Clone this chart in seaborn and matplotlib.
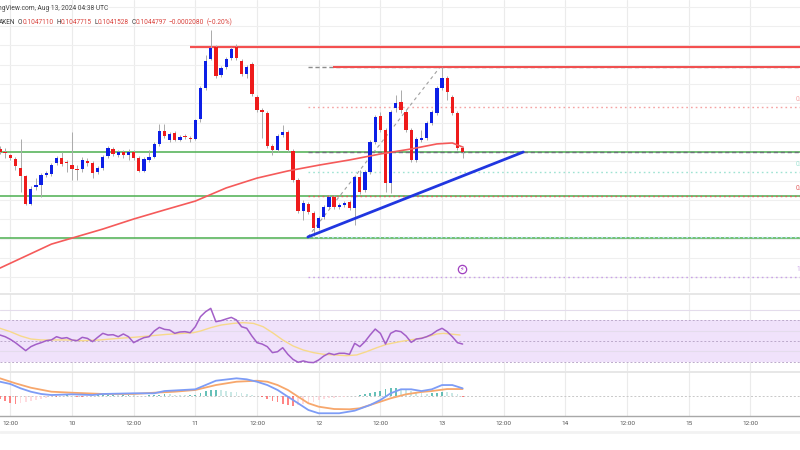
import matplotlib
matplotlib.use("Agg")
import matplotlib.pyplot as plt
from matplotlib.lines import Line2D
import numpy as np
import pandas as pd
import seaborn as sns

sns.set_theme(style="white")
plt.rcParams['font.family'] = ['Roboto', 'DejaVu Sans']

# ---------------- data (hourly candles, hour 0 = Aug 9 10:00 UTC) ----------------
opens = [0.10464, 0.10448, 0.10433, 0.10412, 0.10365, 0.10324, 0.10179, 0.10267, 0.10277, 0.10329,
         0.10334, 0.10391, 0.10417, 0.10396, 0.10381, 0.10360, 0.10360, 0.10402, 0.10391, 0.10345,
         0.10365, 0.10427, 0.10464, 0.10433, 0.10448, 0.10433, 0.10448, 0.10417, 0.10350, 0.10407,
         0.10422, 0.10490, 0.10557, 0.10510, 0.10547, 0.10510, 0.10531, 0.10521, 0.10515, 0.10619,
         0.10780, 0.10930, 0.10992, 0.10847, 0.10888, 0.10935, 0.10992, 0.10920, 0.10852, 0.10904,
         0.10733, 0.10666, 0.10650, 0.10479, 0.10459, 0.10536, 0.10552, 0.10453, 0.10303, 0.10143,
         0.10179, 0.10132, 0.10055, 0.10111, 0.10163, 0.10215, 0.10163, 0.10174, 0.10189, 0.10158,
         0.10319, 0.10251, 0.10345, 0.10500, 0.10635, 0.10562, 0.10288, 0.10676, 0.10707, 0.10655,
         0.10562, 0.10407, 0.10510, 0.10521, 0.10598, 0.10650, 0.10780, 0.10831, 0.10733, 0.10650,
         0.104711]
closes = [0.10448, 0.10443, 0.10417, 0.10376, 0.10324, 0.10179, 0.10256, 0.10277, 0.10329, 0.10339,
          0.10381, 0.10417, 0.10386, 0.10391, 0.10360, 0.10355, 0.10407, 0.10391, 0.10339, 0.10365,
          0.10422, 0.10469, 0.10438, 0.10448, 0.10433, 0.10448, 0.10417, 0.10350, 0.10412, 0.10422,
          0.10490, 0.10557, 0.10531, 0.10541, 0.10510, 0.10526, 0.10526, 0.10518, 0.10614, 0.10780,
          0.10920, 0.10987, 0.10842, 0.10883, 0.10930, 0.10982, 0.10935, 0.10852, 0.10888, 0.10749,
          0.10666, 0.10655, 0.10479, 0.10459, 0.10531, 0.10552, 0.10459, 0.10303, 0.10143, 0.10184,
          0.10137, 0.10055, 0.10106, 0.10163, 0.10215, 0.10163, 0.10174, 0.10184, 0.10158, 0.10319,
          0.10241, 0.10345, 0.10500, 0.10629, 0.10562, 0.10288, 0.10655, 0.10702, 0.10666, 0.10562,
          0.10407, 0.10515, 0.10521, 0.10598, 0.10655, 0.10780, 0.10831, 0.10759, 0.10650, 0.10469,
          0.1044797]
highs = [0.10479, 0.10469, 0.10438, 0.10422, 0.10515, 0.10329, 0.10272, 0.10313, 0.10339, 0.10350,
         0.10391, 0.10427, 0.10448, 0.10407, 0.10552, 0.10381, 0.10422, 0.10417, 0.10402, 0.10376,
         0.10433, 0.10479, 0.10474, 0.10459, 0.10459, 0.10464, 0.10459, 0.10427, 0.10422, 0.10459,
         0.10500, 0.10593, 0.10593, 0.10552, 0.10557, 0.10536, 0.10541, 0.10531, 0.10619, 0.10790,
         0.10951, 0.11080, 0.11002, 0.10894, 0.10940, 0.10992, 0.11008, 0.10930, 0.10899, 0.10914,
         0.10743, 0.10676, 0.10661, 0.10490, 0.10541, 0.10588, 0.10562, 0.10464, 0.10313, 0.10200,
         0.10189, 0.10143, 0.10117, 0.10174, 0.10225, 0.10225, 0.10184, 0.10194, 0.10200, 0.10329,
         0.10355, 0.10355, 0.10510, 0.10640, 0.10655, 0.10572, 0.10666, 0.10743, 0.10769, 0.10666,
         0.10572, 0.10526, 0.10562, 0.10609, 0.10666, 0.10790, 0.10888, 0.10842, 0.10743, 0.10661,
         0.1047715]
lows = [0.10438, 0.10417, 0.10407, 0.10355, 0.10241, 0.10174, 0.10174, 0.10251, 0.10215, 0.10319,
        0.10324, 0.10381, 0.10376, 0.10345, 0.10303, 0.10303, 0.10345, 0.10376, 0.10313, 0.10334,
        0.10355, 0.10417, 0.10427, 0.10422, 0.10417, 0.10407, 0.10407, 0.10345, 0.10345, 0.10396,
        0.10417, 0.10479, 0.10521, 0.10500, 0.10505, 0.10505, 0.10515, 0.10500, 0.10510, 0.10604,
        0.10769, 0.10925, 0.10831, 0.10837, 0.10878, 0.10925, 0.10925, 0.10842, 0.10831, 0.10738,
        0.10655, 0.10521, 0.10469, 0.10433, 0.10448, 0.10526, 0.10448, 0.10293, 0.10132, 0.10096,
        0.10127, 0.10013, 0.10044, 0.10101, 0.10153, 0.10153, 0.10153, 0.10163, 0.10148, 0.10070,
        0.10231, 0.10241, 0.10334, 0.10490, 0.10552, 0.10241, 0.10236, 0.10655, 0.10650, 0.10552,
        0.10396, 0.10396, 0.10500, 0.10510, 0.10588, 0.10640, 0.10769, 0.10718, 0.10640, 0.10459,
        0.1041528]

# 100-period moving average (red), read at selected hours
ma_hours = [0, 10, 20, 26, 32, 38, 44, 50, 56, 62, 68, 74, 80, 85, 88, 90]
ma_vals = [0.09847, 0.09971, 0.10049, 0.10101, 0.10148, 0.10194, 0.10262, 0.10313, 0.10350,
           0.10380, 0.10407, 0.10438, 0.10464, 0.10490, 0.10495, 0.10474]

# RSI per candle
rsi = [55.7, 54.1, 51.6, 48.4, 44.6, 40.8, 44.6, 46.8, 48.4, 50.3,
       51.0, 54.1, 52.5, 53.2, 51.0, 50.3, 53.5, 52.5, 49.4, 53.5,
       57.3, 55.7, 56.0, 54.1, 56.7, 54.1, 48.4, 51.0, 53.2, 54.1,
       59.5, 63.0, 61.1, 60.5, 57.3, 58.6, 58.9, 57.9, 63.6, 73.2,
       77.9, 81.1, 68.4, 69.4, 71.0, 72.5, 70.0, 63.6, 62.1, 54.8,
       48.4, 47.1, 44.6, 38.9, 39.8, 43.6, 37.3, 32.5, 29.7, 31.0,
       29.7, 29.4, 31.9, 35.7, 38.3, 37.0, 38.3, 38.3, 37.3, 47.8,
       44.6, 49.4, 55.7, 61.4, 57.3, 47.1, 57.3, 59.8, 58.9, 54.8,
       48.7, 51.9, 52.5, 54.1, 56.3, 59.8, 62.1, 58.9, 54.1, 48.4,
       47.1]
# RSI-based moving average (yellow)
rsi_ma_hours = [0, 2, 4, 6, 8, 13, 16, 19.5, 23, 26, 29, 32.4, 35.7, 37.6, 39, 41, 43, 45.4, 47.3,
                49.3, 51.2, 53.2, 55, 57, 59, 61, 63, 65, 67.4, 69.4, 71.3, 73.3, 75.2, 77.8, 79.8,
                81.7, 83.7, 85, 86.3, 87.5, 89.5]
rsi_ma = [62.1, 58.9, 54.8, 51.9, 51.0, 51.0, 50.3, 51.0, 52.5, 53.5, 54.8, 56.3, 57.3, 57.9, 59.5,
          62.7, 65.2, 66.8, 67.5, 66.8, 63.6, 57.3, 51.0, 45.3, 41.4, 38.9, 37.3, 36.7, 36.0, 36.7,
          39.8, 43.6, 46.8, 49.4, 51.0, 52.5, 54.8, 56.7, 57.3, 56.7, 55.7]

# MACD (units of 1e-5)
macd_hours = [0, 2, 4, 6, 8, 10, 14, 18, 20, 26, 30, 32, 38, 40, 42, 46, 48, 50, 52, 54, 56, 58,
              60, 62, 66, 69, 72, 74, 76, 78, 80, 82, 84, 86, 88, 90]
macd_vals = [21.0, 17.6, 11.1, 6.0, 2.6, 1.0, 2.1, 1.0, 2.6, 3.6, 3.6, 7.0, 9.6, 16.0, 22.5, 26.1,
             24.6, 21.0, 16.0, 8.6, -1.5, -11.4, -21.5, -26.4, -26.4, -22.5, -14.0, -6.5, 3.6, 9.6,
             9.6, 7.0, 9.6, 16.0, 16.0, 11.1]
signal_hours = [0, 3, 6, 10, 14, 20, 26, 30, 34, 38, 42, 46, 50, 52, 54, 56, 58, 60, 62, 65, 68,
                70, 72, 74, 76, 79, 82, 84, 87, 90]
signal_vals = [26.1, 18.6, 12.0, 6.0, 4.5, 2.6, 2.6, 4.5, 6.0, 8.6, 16.0, 21.0, 22.5, 21.0, 16.0,
               8.6, -1.5, -11.4, -16.5, -20.0, -20.4, -18.9, -14.0, -9.0, -3.9, 2.1, 5.6, 7.0,
               10.0, 10.0]
hist = [-4.5, -7.5, -10.5, -12, -10.5, -9, -7.5, -6, -4.5, -3, -1.5,
        -1.5, -0.8, 0.8, -0.8, -1.5, -2.3, -1.5, -0.8, 0.8, 0.8, 0.8, 0.8, 0.5, 0.5, 0.5, 0.3,
        -0.5, -0.5, 0.3, 0.8, 1.5, 2.3, 1.8, 1.5, 1.2, 0.8, 0.8,
        1.5, 4.5, 6.8, 8.3, 9, 8.3, 7.5, 6, 5.3, 3.8, 2.3, 0.8, -0.8,
        -2.3, -4.5, -7.5, -9.8, -12, -13.5, -15, -14.3, -12.8, -10.5, -9, -6.8,
        -5.3, -3.8, -3, -2.3, -1.5, -0.8, 0, 0.8, 2.3,
        3.8, 5.3, 7.5, 9.8, 11.3, 11.3, 9.8, 8.3, 6.8, 5.3, 3.8, 3, 3.8, 4.5, 6, 5.3, 3.8, 2.3, -1.5]

# drawn levels
resistance_price = 0.10992
resistance_start = 37.0
swing_high_price = 0.10888
swing_high_start = 64.8
green_levels = [0.10448, 0.10220, 0.10003]
fib_start = 59.9
fib_prices = [0.10888, 0.10680, 0.10448, 0.10344, 0.10220, 0.10008, 0.09800]
fib_colors = ['#8d8d8d', '#f4a3a3', '#6f727c', '#9fe3d3', '#e35d5d', '#b8e6f0', '#c9a3e6']
fib_labels = ['', '0.236(0.10680)', '', '0.618(0.10344)', '0.786(0.10220)', '', '1.236(0.09800)']
fib_diag_hours = [59.9, 85.6]
fib_diag_prices = [0.10008, 0.10888]
trend_hours = [59.9, 101.8]
trend_prices = [0.10008, 0.10448]
grid_prices = [0.098, 0.099, 0.100, 0.101, 0.102, 0.103, 0.104, 0.105, 0.106, 0.107, 0.108,
               0.109, 0.110, 0.111, 0.112]
tick_hours = [2, 14, 26, 38, 50, 62, 74, 86, 98, 110, 122, 134, 146]
tick_labels = ['12:00', '10', '12:00', '11', '12:00', '12', '12:00', '13', '12:00', '14',
               '12:00', '15', '12:00']
icon_hour, icon_price = 89.9, 0.09842

header_1 = 'ngView.com, Aug 13, 2024 04:38 UTC'
# (text, kind, gap before in points)
header_2 = [('O', 'label', 1.6), ('0.1047110', 'value', 0), ('H', 'label', 1.8),
            ('0.1047715', 'value', 0), ('L', 'label', 1.8), ('0.1041528', 'value', 0),
            ('C', 'label', 1.8), ('0.1044797', 'value', 0), ('\u22120.0002080', 'value', 1.8),
            ('(\u22120.20%)', 'value', 1.6)]

# ---------------- figure ----------------
W, H = 800, 450
fig = plt.figure(figsize=(8, 4.5), dpi=100)
fig.patch.set_facecolor('white')


def fy(px):
    return 1 - px / H


ax = fig.add_axes([0, fy(292), 1, 292 / H])
ax_rsi = fig.add_axes([0, fy(371), 1, 77 / H])
ax_macd = fig.add_axes([0, fy(416), 1, 44 / H])
XMAX = 155.64
for a in (ax, ax_rsi, ax_macd):
    a.set_xlim(0, XMAX)
    for s in a.spines.values():
        s.set_visible(False)
    a.set_yticks([])
    a.set_facecolor('none')
    for t in tick_hours:
        a.axvline(t, color='#ebebeb', lw=0.8, zorder=0)
ax.set_xticks([])
ax_rsi.set_xticks([])

# ---- main pane ----
ax.set_ylim(0.09723, 0.112355)
for p in grid_prices:
    ax.axhline(p, color='#efefef', lw=0.8, zorder=0)

hours = np.arange(len(opens))
o = np.array(opens); c = np.array(closes)
hi = np.array(highs); lo = np.array(lows)
up = c >= o
body_bottom = np.minimum(o, c)
body_h = np.maximum(np.abs(c - o), 0.00002)
ax.vlines(hours, lo, hi, color='#aaaaaa', lw=0.7, zorder=3)
ax.bar(hours, body_h, bottom=body_bottom, width=0.64,
       color=np.where(up, '#0c1fe6', '#ee1b1b'), linewidth=0, zorder=4)

# MA
sns.lineplot(x=ma_hours, y=ma_vals, ax=ax, color='#f55a5a', lw=1.2, zorder=5)

# levels
for g in green_levels:
    ax.axhline(g, color='#4caf50', lw=1.1, zorder=2)
ax.hlines(resistance_price, resistance_start, XMAX, color='#f45050', lw=1.6, zorder=2)
for p, col in zip(fib_prices, fib_colors):
    ls = (0, (3, 2)) if col in ('#8d8d8d', '#6f727c') else (0, (1.2, 2.2))
    ax.hlines(p, fib_start, XMAX, color=col, lw=1.0, linestyles=[ls], zorder=2.5)
ax.hlines(swing_high_price, swing_high_start, XMAX, color='#f05050', lw=1.5, zorder=2.6)
sns.lineplot(x=fib_diag_hours, y=fib_diag_prices, ax=ax, color='#a0a0a0', lw=0.8,
             linestyle=(0, (3, 3)), zorder=2)
sns.lineplot(x=trend_hours, y=trend_prices, ax=ax, color='#2036e0', lw=2.0, zorder=6)

label_x = 796 / W * XMAX
for p, col, lab in zip(fib_prices, fib_colors, fib_labels):
    if lab:
        ax.annotate(lab, xy=(label_x, p), xytext=(0, 2.5), textcoords='offset points',
                    ha='left', va='bottom', fontsize=4.8, color=col, annotation_clip=False)

ax.scatter([icon_hour], [icon_price], s=36, facecolor='white', edgecolor='#a040c0',
           lw=0.9, zorder=7)
ax.text(icon_hour, icon_price, '\u26a1', fontsize=4.6, color='#a040c0', ha='center',
        va='center', zorder=8, family=['DejaVu Sans'])

# ---- RSI pane ----
ax_rsi.set_ylim(21.4, 94.8)
ax_rsi.axhspan(30, 70, color='#f0e2fb', lw=0, zorder=0)
for lv in (40, 60, 80):
    ax_rsi.axhline(lv, color='#e4dcec', lw=0.8, zorder=0.5)
for lv in (30, 50, 70):
    ax_rsi.axhline(lv, color='#bcaacb', lw=0.7, linestyle=(0, (2, 2)), zorder=1)
sns.lineplot(x=rsi_ma_hours, y=rsi_ma, ax=ax_rsi, color='#f7d98a', lw=1.0, zorder=2)
sns.lineplot(x=hours, y=rsi, ax=ax_rsi, color='#a35fc8', lw=1.1, zorder=3)

# ---- MACD pane ----
ax_macd.set_ylim(-30.5, 35.6)
ax_macd.axhline(0, color='#c8c8c8', lw=0.7, linestyle=(0, (2, 2)), zorder=1)
hv = np.array(hist)
prev = np.concatenate([[hv[0]], hv[:-1]])
hcol = np.where(hv >= 0, np.where(hv >= prev, '#26a69a', '#b2dfdb'),
                np.where(hv <= prev, '#ff5252', '#ffcdd2'))
ax_macd.bar(hours, hv, width=0.35, color=hcol, alpha=0.7, linewidth=0, zorder=2)
sns.lineplot(x=signal_hours, y=signal_vals, ax=ax_macd, color='#f7a76c', lw=1.3, zorder=3)
sns.lineplot(x=macd_hours, y=macd_vals, ax=ax_macd, color='#7d9cf6', lw=1.3, zorder=4)
ax_macd.spines['bottom'].set_visible(True)
ax_macd.spines['bottom'].set_color('#a8a8a8')
ax_macd.spines['bottom'].set_linewidth(1.0)
ax_macd.set_xticks(tick_hours)
ax_macd.set_xticklabels(tick_labels)
ax_macd.tick_params(axis='x', length=0, pad=3.5, labelsize=4.6, labelcolor='#555555')
for a in (ax, ax_rsi, ax_macd):
    a.set_xlabel(''); a.set_ylabel('')

# pane separators
for ypx, col, lw in ((294, '#e3e3e3', 1.2), (371.5, '#e3e3e3', 1.2), (432, '#f2f2f2', 2.0)):
    fig.add_artist(Line2D([0, 1], [fy(ypx), fy(ypx)], transform=fig.transFigure,
                          color=col, lw=lw))

# ---- header texts ----
fig.text(-0.003, fy(8), header_1, fontsize=4.8, color='#444444', ha='left', va='center')
colors_hdr = {'label': '#3a3a3a', 'value': '#d9423c'}
t = fig.text(-0.001, fy(23), 'AKEN', fontsize=4.7, color=colors_hdr['label'],
             ha='left', va='center')
for txt, kind, gap in header_2:
    t = ax.annotate(txt, xy=(1, 0), xycoords=t, xytext=(gap, 0), textcoords='offset points',
                    ha='left', va='bottom', fontsize=4.7, color=colors_hdr[kind],
                    annotation_clip=False)

fig.savefig('out.png', dpi=100, facecolor='white')
